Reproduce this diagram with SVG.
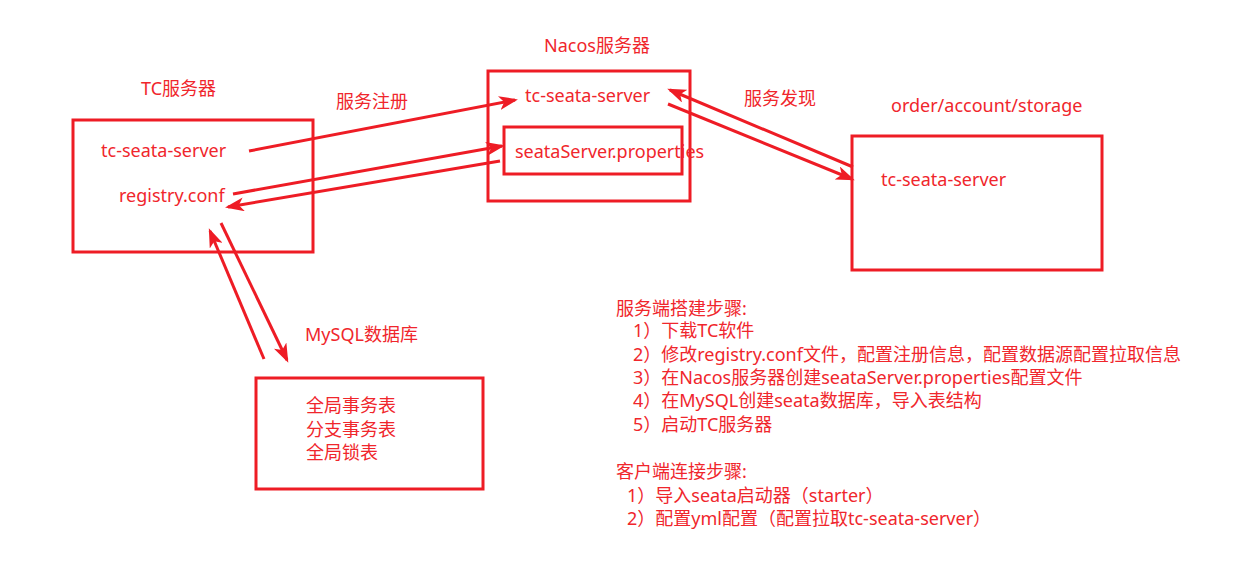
<svg xmlns="http://www.w3.org/2000/svg" width="1252" height="568" viewBox="0 0 1252 568">
<style>
  .box{fill:none;stroke:#ee1c25;stroke-width:3}
  .t{font-family:"Noto Sans","Noto Sans CJK SC",sans-serif;font-size:18px;fill:#f0262c}
  .c{stroke:#ee1c25;stroke-width:3;fill:none;marker-end:url(#ah)}
</style>
<defs>
  <marker id="ah" markerUnits="userSpaceOnUse" markerWidth="20" markerHeight="14" refX="16" refY="7" orient="auto">
    <path d="M0,0 L19,7 L0,14 L5,7 Z" fill="#ee1c25"/>
  </marker>
</defs>
<rect width="1252" height="568" fill="#ffffff"/>

<g id="tc-server">
  <text class="t" x="141" y="95">TC服务器</text>
  <rect class="box" x="73" y="120" width="240" height="132"/>
  <text class="t" x="101" y="157">tc-seata-server</text>
  <text class="t" x="119" y="202">registry.conf</text>
</g>

<g id="nacos">
  <text class="t" x="544" y="52">Nacos服务器</text>
  <rect class="box" x="488" y="71" width="202" height="130"/>
  <text class="t" x="525" y="102">tc-seata-server</text>
  <rect class="box" x="504" y="127" width="178" height="47"/>
  <text class="t" x="515" y="158">seataServer.properties</text>
</g>

<g id="clients">
  <text class="t" x="891" y="112">order/account/storage</text>
  <rect class="box" x="852" y="136" width="250" height="134"/>
  <text class="t" x="881" y="186">tc-seata-server</text>
</g>

<g id="mysql">
  <text class="t" x="305" y="341">MySQL数据库</text>
  <rect class="box" x="256" y="378" width="227" height="111"/>
  <text class="t" x="306" y="412">全局事务表</text>
  <text class="t" x="306" y="436">分支事务表</text>
  <text class="t" x="306" y="459">全局锁表</text>
</g>

<g id="steps">
  <text class="t" x="616" y="315">服务端搭建步骤:</text>
  <text class="t" x="633" y="337">1）下载TC软件</text>
  <text class="t" x="633" y="360.5">2）修改registry.conf文件，配置注册信息，配置数据源配置拉取信息</text>
  <text class="t" x="633" y="384">3）在Nacos服务器创建seataServer.properties配置文件</text>
  <text class="t" x="633" y="407">4）在MySQL创建seata数据库，导入表结构</text>
  <text class="t" x="633" y="430.5">5）启动TC服务器</text>
  <text class="t" x="616" y="478">客户端连接步骤:</text>
  <text class="t" x="627" y="501.5">1）导入seata启动器（starter）</text>
  <text class="t" x="627" y="525">2）配置yml配置（配置拉取tc-seata-server）</text>
</g>

<g id="connectors">
  <text class="t" x="336" y="108">服务注册</text>
  <text class="t" x="744" y="105">服务发现</text>
  <line class="c" x1="249" y1="151" x2="515" y2="100"/>
  <line class="c" x1="233" y1="194" x2="502" y2="146"/>
  <line class="c" x1="500" y1="161" x2="228" y2="207"/>
  <line class="c" x1="853" y1="167" x2="670" y2="90"/>
  <line class="c" x1="668" y1="104" x2="852" y2="179"/>
  <line class="c" x1="264" y1="359" x2="210" y2="231"/>
  <line class="c" x1="221" y1="223" x2="287" y2="360"/>
</g>
</svg>
